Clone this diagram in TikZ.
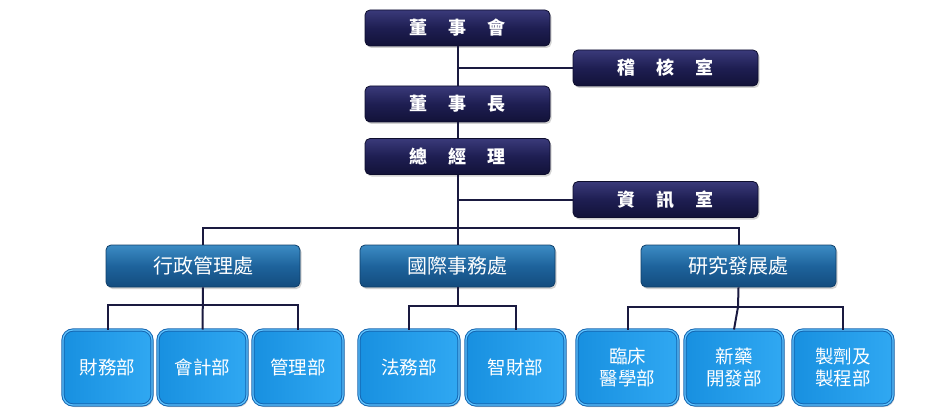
\documentclass[tikz,border=0pt]{standalone}
\usepackage{fontspec}
\setmainfont{Noto Sans CJK TC}
\usetikzlibrary{shadows}
\definecolor{navyTop}{HTML}{3A3A7A}
\definecolor{navyMid}{HTML}{1E1E52}
\definecolor{navyBot}{HTML}{121238}
\definecolor{navyEdge}{HTML}{0E0E2E}
\definecolor{midTop}{HTML}{3C8CC4}
\definecolor{midMid}{HTML}{1E639C}
\definecolor{midBot}{HTML}{134C7E}
\definecolor{midEdge}{HTML}{0F3F6A}
\definecolor{lowL}{HTML}{1890E0}
\definecolor{lowR}{HTML}{30A8F2}
\definecolor{lowEdge}{HTML}{1565B0}
\definecolor{lowHi}{HTML}{60C4FF}
\definecolor{lineC}{HTML}{1A1A40}
\newcommand{\csp}{\hspace{21pt}}
\begin{document}
\begin{tikzpicture}[x=1pt,y=-1pt,
  boxbase/.style={rounded corners=5pt, inner sep=0pt, text=white, align=center,
    drop shadow={opacity=0.35, shadow xshift=1.5pt, shadow yshift=-2pt}},
  topbox/.style={boxbase, minimum width=185pt, minimum height=36pt,
    top color=navyTop, bottom color=navyBot, middle color=navyMid,
    draw=navyEdge, line width=0.8pt, font=\fontsize{18pt}{20pt}\selectfont\bfseries},
  midbox/.style={boxbase, minimum width=195pt, minimum height=42pt,
    top color=midTop, bottom color=midBot, middle color=midMid,
    draw=midEdge, line width=0.8pt, font=\fontsize{20pt}{22pt}\selectfont},
  lowbox/.style={boxbase, rounded corners=10pt, minimum height=75pt,
    left color=lowL, right color=lowR,
    draw=lowEdge, double=lowHi, double distance=1.2pt, line width=1pt,
    font=\fontsize{18.5pt}{22pt}\selectfont},
  conn/.style={draw=lineC, line width=2pt}]
\useasboundingbox (0,0) rectangle (950,417);
\fill[white] (0,0) rectangle (950,417);

\coordinate (topbus) at (457.5,228);
\coordinate (busA) at (203,305);
\coordinate (busB) at (457.5,306);
\coordinate (busC) at (738,307);

\node[topbox] (board) at (457.5,28) {董\csp 事\csp 會};
\node[topbox] (audit) at (665.5,68) {稽\csp 核\csp 室};
\node[topbox] (chair) at (457.5,104) {董\csp 事\csp 長};
\node[topbox] (gm) at (457.5,156.5) {總\csp 經\csp 理};
\node[topbox] (it) at (665.5,199.5) {資\csp 訊\csp 室};

\node[midbox, minimum width=194pt] (adm) at (203,266) {行政管理處};
\node[midbox] (intl) at (457.5,266) {國際事務處};
\node[midbox] (rd) at (738.5,266) {研究發展處};

\node[lowbox, minimum width=89pt] (fin) at (107.5,367.5) {財務部};
\node[lowbox, minimum width=89pt] (acc) at (202.5,367.5) {會計部};
\node[lowbox, minimum width=90pt] (mgt) at (298,367.5) {管理部};
\node[lowbox, minimum width=100pt] (law) at (409,367.5) {法務部};
\node[lowbox, minimum width=99pt] (ip) at (515.5,367.5) {智財部};
\node[lowbox, minimum width=101pt] (clin) at (627.5,367.5) {臨床\\醫學部};
\node[lowbox, minimum width=98pt] (drug) at (734,367.5) {新藥\\開發部};
\node[lowbox, minimum width=100pt] (form) at (843,367.5) {製劑及\\製程部};

\draw[conn] (board.south) -- (chair.north);
\draw[conn] (chair.south) -- (gm.north);
\draw[conn] (gm.south) -- (topbus);
\draw[conn] (audit.west) -- (audit.west -| board.south);
\draw[conn] (it.west) -- (it.west -| gm.south);
\draw[conn] (adm.north) |- (topbus) -| (rd.north);
\draw[conn] (topbus) -- (intl.north);

\draw[conn] (adm.south) -- (acc.north);
\draw[conn] (fin.north) |- (busA) -| (mgt.north);
\draw[conn] (intl.south) -- (busB);
\draw[conn] (law.north) |- (busB) -| (ip.north);
\draw[conn] (rd.south) -- (busC);
\draw[conn] (clin.north) |- (busC) -| (form.north);
\draw[conn] (busC) -- (drug.north);
\end{tikzpicture}
\end{document}
